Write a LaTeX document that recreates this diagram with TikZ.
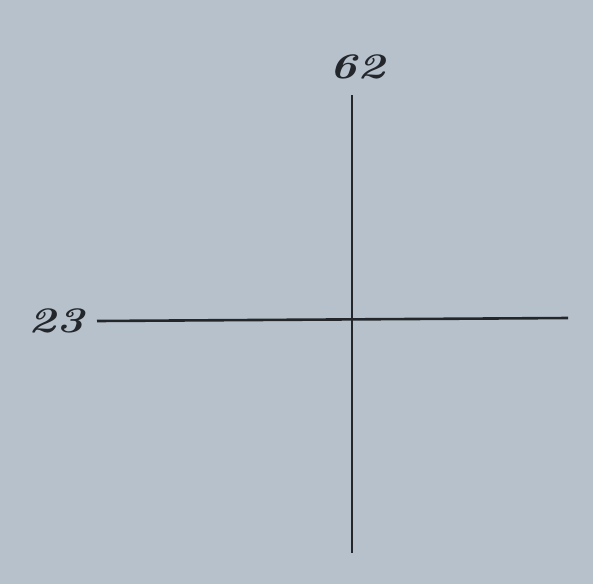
\documentclass[tikz,border=0pt]{standalone}
\begin{document}
\begin{tikzpicture}[x=1pt,y=-1pt,
  axisline/.style={line width=2.6pt, draw=linecol},
  lbl/.style={text=linecol, font=\fontsize{36}{36}\selectfont\itshape\bfseries, inner sep=0pt, xscale=1.3}]
\definecolor{bgcol}{HTML}{B7C1CB}
\definecolor{linecol}{HTML}{23272C}
\fill[bgcol] (0,0) rectangle (593,584);
\useasboundingbox (0,0) rectangle (593,584);
\coordinate (L) at (97,321);
\coordinate (R) at (568,318);
\coordinate (T) at (352,95);
\coordinate (B) at (352,553);
\draw[axisline] (L) -- (R);
\draw[axisline] (T) -- (B);
\node[lbl] (n62) at (357,67) {62};
\node[lbl] (n23) at (56,321) {23};
\end{tikzpicture}
\end{document}
